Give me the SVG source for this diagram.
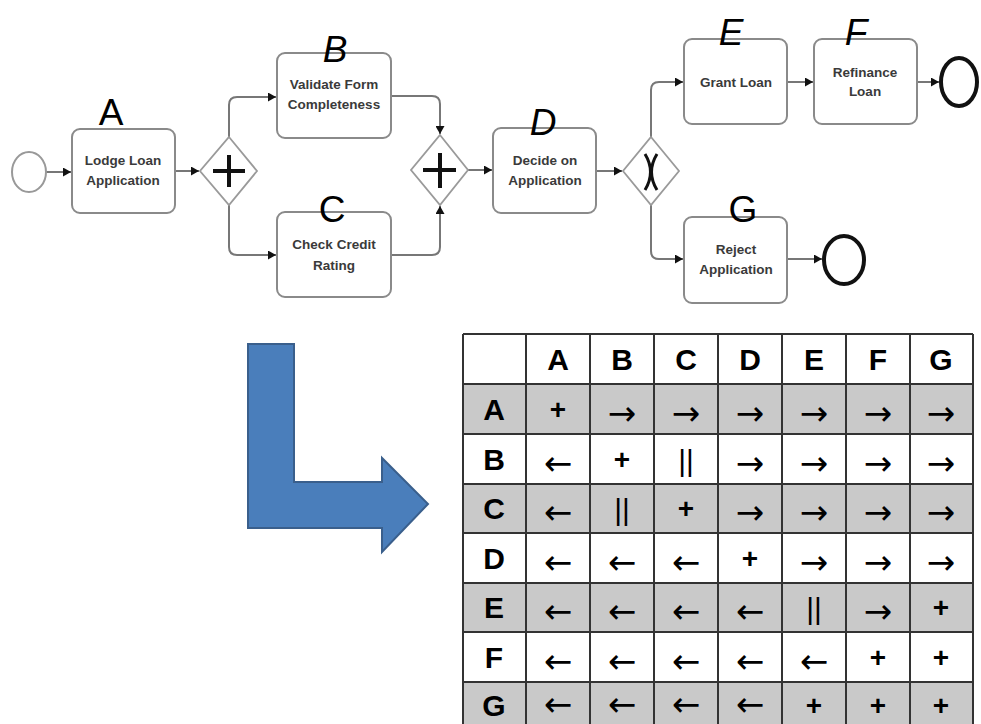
<svg xmlns="http://www.w3.org/2000/svg" width="981" height="724" viewBox="0 0 981 724">
<style>
.task{fill:#fff;stroke:#8a8a8a;stroke-width:2}
.tl{font-family:"Liberation Sans",Arial,sans-serif;font-weight:bold;font-size:13.5px;fill:#3a3a3a;text-anchor:middle}
.gw{fill:#fff;stroke:#9a9a9a;stroke-width:1.8}
.sym{stroke:#111;stroke-width:4;fill:none}
.conn{fill:none;stroke:#777;stroke-width:2}
.lbl{font-family:"Liberation Sans",Arial,sans-serif;font-size:37px;fill:#000;text-anchor:middle}
.it{font-style:italic}
.g{fill:#c9c9c9}
.w{fill:#fff}
.grid{stroke:#333;stroke-width:2;fill:none}
.th{font-family:"Liberation Sans",Arial,sans-serif;font-weight:bold;font-size:30px;fill:#000;text-anchor:middle}
.tc{font-family:"Liberation Sans",Arial,sans-serif;font-size:30px;fill:#000;text-anchor:middle}
.ar{font-family:"DejaVu Sans",sans-serif;font-size:34px;fill:#000;text-anchor:middle}
.tp{font-family:"Liberation Sans",Arial,sans-serif;font-weight:bold;font-size:28px;fill:#000;text-anchor:middle}
</style>
<defs>
<marker id="ah" markerWidth="9" markerHeight="9" refX="8" refY="4.5" orient="auto" markerUnits="userSpaceOnUse">
<path d="M0,0 L8,4.5 L0,9 Z" fill="#111"/>
</marker>
</defs>
<rect width="981" height="724" fill="#fff"/>

<g id="connectors">
<path class="conn" d="M46,172 H71" marker-end="url(#ah)"/>
<path class="conn" d="M175,171 H199" marker-end="url(#ah)"/>
<path class="conn" d="M229,137 V105 Q229,97 237,97 H276" marker-end="url(#ah)"/>
<path class="conn" d="M229,205 V247 Q229,255 237,255 H276" marker-end="url(#ah)"/>
<path class="conn" d="M391,96 H432 Q440,96 440,104 V134" marker-end="url(#ah)"/>
<path class="conn" d="M391,255 H432 Q440,255 440,247 V206" marker-end="url(#ah)"/>
<path class="conn" d="M468,170 H492" marker-end="url(#ah)"/>
<path class="conn" d="M596,171 H622" marker-end="url(#ah)"/>
<path class="conn" d="M651,137 V90 Q651,82 659,82 H683" marker-end="url(#ah)"/>
<path class="conn" d="M651,205 V251 Q651,259 659,259 H683" marker-end="url(#ah)"/>
<path class="conn" d="M787,82 H813" marker-end="url(#ah)"/>
<path class="conn" d="M917,82 H939" marker-end="url(#ah)"/>
<path class="conn" d="M787,259 H822" marker-end="url(#ah)"/>
</g>

<g id="start">
<ellipse cx="29" cy="172" rx="17" ry="20" fill="#fff" stroke="#999" stroke-width="2"/>
</g>

<g id="taskA">
<rect class="task" x="72" y="129" width="103" height="84" rx="8"/>
<text class="tl" x="123" y="165">Lodge Loan</text>
<text class="tl" x="123" y="185">Application</text>
<text class="lbl" x="111" y="125">A</text>
</g>

<g id="gateway1">
<polygon class="gw" points="229,137 257,171 229,205 200,171"/>
<path class="sym" d="M213,171 H245 M229,155 V187"/>
</g>

<g id="taskB">
<rect class="task" x="277" y="53" width="114" height="85" rx="8"/>
<text class="tl" x="334" y="89">Validate Form</text>
<text class="tl" x="334" y="109">Completeness</text>
<text class="lbl it" x="335" y="62">B</text>
</g>

<g id="taskC">
<rect class="task" x="277" y="212" width="114" height="85" rx="8"/>
<text class="tl" x="334" y="249">Check Credit</text>
<text class="tl" x="334" y="270">Rating</text>
<text class="lbl" x="332" y="222">C</text>
</g>

<g id="gateway2">
<polygon class="gw" points="440,135 468,170 440,205 411,170"/>
<path class="sym" d="M423,170 H456 M440,153 V188"/>
</g>

<g id="taskD">
<rect class="task" x="493" y="128" width="103" height="85" rx="8"/>
<text class="tl" x="545" y="165">Decide on</text>
<text class="tl" x="545" y="185">Application</text>
<text class="lbl it" x="543" y="135">D</text>
</g>

<g id="gateway3">
<polygon class="gw" points="651,137 679,171 651,205 623,171"/>
<path d="M645,154 Q656,172 645,190 M657,154 Q646,172 657,190" stroke="#111" stroke-width="3" fill="none"/>
</g>

<g id="taskE">
<rect class="task" x="684" y="39" width="103" height="85" rx="8"/>
<text class="tl" x="736" y="87">Grant Loan</text>
<text class="lbl it" x="731" y="45">E</text>
</g>

<g id="taskF">
<rect class="task" x="814" y="39" width="103" height="85" rx="8"/>
<text class="tl" x="865" y="77">Refinance</text>
<text class="tl" x="865" y="96">Loan</text>
<text class="lbl it" x="856" y="45">F</text>
</g>

<g id="taskG">
<rect class="task" x="684" y="217" width="103" height="86" rx="8"/>
<text class="tl" x="736" y="254">Reject</text>
<text class="tl" x="736" y="274">Application</text>
<text class="lbl" x="743" y="222">G</text>
</g>

<g id="end1">
<ellipse cx="959" cy="82" rx="18" ry="24" fill="#fff" stroke="#111" stroke-width="4"/>
</g>
<g id="end2">
<ellipse cx="844" cy="260" rx="20" ry="24" fill="#fff" stroke="#111" stroke-width="4"/>
</g>

<g id="bigArrow">
<polygon points="248,344 294,344 294,482 382,482 382,458 428,504 382,552 382,528 248,528" fill="#4a7ebb" stroke="#3a5f8c" stroke-width="2"/>
</g>

<g id="table">
<rect class="w" x="463" y="334" width="510" height="50"/>
<rect class="g" x="463" y="384" width="510" height="50"/>
<rect class="w" x="463" y="434" width="510" height="50"/>
<rect class="g" x="463" y="484" width="510" height="49"/>
<rect class="w" x="463" y="533" width="510" height="50"/>
<rect class="g" x="463" y="583" width="510" height="49"/>
<rect class="w" x="463" y="632" width="510" height="50"/>
<rect class="g" x="463" y="682" width="510" height="49"/>
<path class="grid" d="M463,334 H973 M463,384 H973 M463,434 H973 M463,484 H973 M463,533 H973 M463,583 H973 M463,632 H973 M463,682 H973 M463,334 V724 M526,334 V724 M590,334 V724 M654,334 V724 M718,334 V724 M782,334 V724 M846,334 V724 M910,334 V724 M973,334 V724"/>
<g class="th">
<text x="558" y="370">A</text><text x="622" y="370">B</text><text x="686" y="370">C</text><text x="750" y="370">D</text><text x="814" y="370">E</text><text x="878" y="370">F</text><text x="941" y="370">G</text>
<text x="494" y="420">A</text><text x="494" y="470">B</text><text x="494" y="519">C</text><text x="494" y="569">D</text><text x="494" y="618">E</text><text x="494" y="668">F</text><text x="494" y="716">G</text>
</g>
<g class="ar">
<text x="622" y="425">→</text><text x="686" y="425">→</text><text x="750" y="425">→</text><text x="814" y="425">→</text><text x="878" y="425">→</text><text x="941" y="425">→</text>
<text x="558" y="475">←</text><text x="750" y="475">→</text><text x="814" y="475">→</text><text x="878" y="475">→</text><text x="941" y="475">→</text>
<text x="558" y="524">←</text><text x="750" y="524">→</text><text x="814" y="524">→</text><text x="878" y="524">→</text><text x="941" y="524">→</text>
<text x="558" y="574">←</text><text x="622" y="574">←</text><text x="686" y="574">←</text><text x="814" y="574">→</text><text x="878" y="574">→</text><text x="941" y="574">→</text>
<text x="558" y="623">←</text><text x="622" y="623">←</text><text x="686" y="623">←</text><text x="750" y="623">←</text><text x="878" y="623">→</text>
<text x="558" y="673">←</text><text x="622" y="673">←</text><text x="686" y="673">←</text><text x="750" y="673">←</text><text x="814" y="673">←</text>
<text x="558" y="716">←</text><text x="622" y="716">←</text><text x="686" y="716">←</text><text x="750" y="716">←</text>
</g>
<g class="tc">
<text x="686" y="471">||</text>
<text x="622" y="520">||</text>
<text x="814" y="619">||</text>
</g>
<g class="tp">
<text x="558" y="419">+</text>
<text x="622" y="469">+</text>
<text x="686" y="518">+</text>
<text x="750" y="568">+</text>
<text x="941" y="617">+</text>
<text x="878" y="667">+</text><text x="941" y="667">+</text>
<text x="814" y="715">+</text><text x="878" y="715">+</text><text x="941" y="715">+</text>
</g>
</g>
</svg>
